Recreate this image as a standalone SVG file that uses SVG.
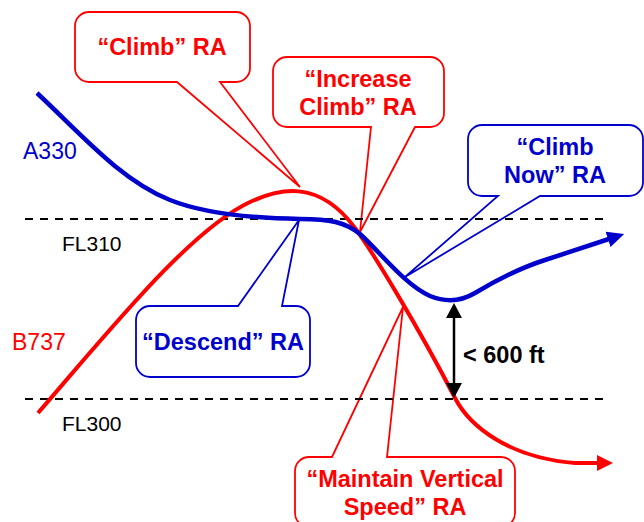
<svg xmlns="http://www.w3.org/2000/svg" width="644" height="522" viewBox="0 0 644 522">
<style>
.bg{fill:#ffffff}
.dash{stroke:#000;stroke-width:2;stroke-dasharray:8 7;fill:none}
.call-r{fill:#fff;stroke:#ff0000;stroke-width:1.8;stroke-linejoin:miter}
.call-b{fill:#fff;stroke:#0000cc;stroke-width:1.8;stroke-linejoin:miter}
.t{font-family:"Liberation Sans",Arial,sans-serif;font-weight:bold;font-size:23.5px;text-anchor:middle}
.tr{fill:#ff0000}
.tb{fill:#0000cc}
.lab{font-family:"Liberation Sans",Arial,sans-serif;font-size:21px}
.ac{font-family:"Liberation Sans",Arial,sans-serif;font-size:23px}
.red{fill:none;stroke:#ff0000;stroke-width:4}
.blue{fill:none;stroke:#0000cc;stroke-width:4.5}
</style>
<defs>
<marker id="arrR" markerUnits="userSpaceOnUse" viewBox="0 0 16 16" markerWidth="16" markerHeight="16" refX="1" refY="8" orient="auto">
<path d="M0,0 L16,8 L0,16 Z" fill="#ff0000"/>
</marker>
<marker id="arrB" markerUnits="userSpaceOnUse" viewBox="0 0 17 16" markerWidth="17" markerHeight="16" refX="1" refY="8" orient="auto">
<path d="M0,0 L17,8 L0,16 Z" fill="#0000cc"/>
</marker>
<marker id="arrK" markerUnits="userSpaceOnUse" viewBox="0 0 15 16" markerWidth="15" markerHeight="16" refX="1" refY="8" orient="auto-start-reverse">
<path d="M0,0 L15,8 L0,16 Z" fill="#000"/>
</marker>
</defs>
<rect class="bg" x="0" y="0" width="644" height="522"/>

<g id="callout-climb">
<path class="call-r" d="M89,12 H236 A14,14 0 0 1 250,26 V68 A14,14 0 0 1 236,82 H220 L300,187 L177,82 H89 A14,14 0 0 1 75,68 V26 A14,14 0 0 1 89,12 Z"/>
<text class="t tr" x="162" y="55">“Climb” RA</text>
</g>
<g id="callout-increase">
<path class="call-r" d="M287,57 H430 A14,14 0 0 1 444,71 V113 A14,14 0 0 1 430,127 H415 L360,232 L371,127 H287 A14,14 0 0 1 273,113 V71 A14,14 0 0 1 287,57 Z"/>
<text class="t tr" x="358" y="87">“Increase</text>
<text class="t tr" x="358" y="115">Climb” RA</text>
</g>
<g id="callout-climbnow">
<path class="call-b" d="M482,125 H629 A14,14 0 0 1 643,139 V182 A14,14 0 0 1 629,196 H540 L405,277 L498,196 H482 A14,14 0 0 1 468,182 V139 A14,14 0 0 1 482,125 Z"/>
<text class="t tb" x="555" y="155">“Climb</text>
<text class="t tb" x="555" y="183">Now” RA</text>
</g>
<g id="callout-descend">
<path class="call-b" d="M150,306 H238 L299,220 L282,306 H296 A14,14 0 0 1 310,320 V363 A14,14 0 0 1 296,377 H150 A14,14 0 0 1 136,363 V320 A14,14 0 0 1 150,306 Z"/>
<text class="t tb" x="223" y="350">“Descend” RA</text>
</g>
<g id="callout-maintain">
<path class="call-r" d="M309,457 H332 L403,307 L387,457 H501 A14,14 0 0 1 515,471 V513 A14,14 0 0 1 501,527 H309 A14,14 0 0 1 295,513 V471 A14,14 0 0 1 309,457 Z"/>
<text class="t tr" x="405" y="487">“Maintain Vertical</text>
<text class="t tr" x="405" y="515">Speed” RA</text>
</g>

<g id="flight-levels">
<line class="dash" x1="25" y1="219" x2="605" y2="219"/>
<line class="dash" x1="25" y1="399" x2="605" y2="399"/>
<text class="lab" x="62" y="251" fill="#000">FL310</text>
<text class="lab" x="62" y="431" fill="#000">FL300</text>
</g>

<g id="connectors">
<path id="b737" class="red" marker-end="url(#arrR)" d="M38,413 C110,330 190,230 250,202 C278,189 318,178 355,228 C373.5,253 420,330 455,398 C470,427 510,458 575,463 L598,463"/>
<path id="a330" class="blue" marker-end="url(#arrB)" d="M37,93 C80,133 120,180 170,200 C200,212 240,218 300,219 C330,219 345,222 360,234 C380,252 405,285 430,296 C445,302 460,302 475,293 C500,278 520,268 545,260 L609,239"/>
<line id="sep" x1="454" y1="317" x2="454" y2="384" stroke="#000" stroke-width="2.5" marker-start="url(#arrK)" marker-end="url(#arrK)"/>
</g>

<g id="labels">
<text class="ac" x="23" y="159" fill="#0000cc">A330</text>
<text class="ac" x="12" y="350" fill="#ff0000">B737</text>
<text class="t" x="463" y="363" style="text-anchor:start" fill="#000">&lt; 600 ft</text>
</g>
</svg>
